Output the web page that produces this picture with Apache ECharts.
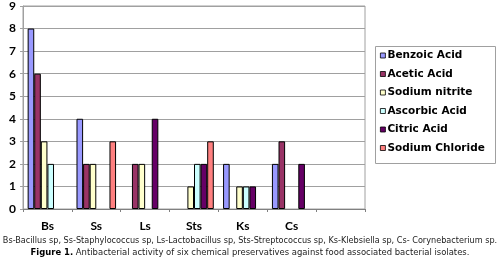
<!DOCTYPE html>
<html><head><meta charset="utf-8">
<script src="https://cdn.jsdelivr.net/npm/echarts@6/dist/echarts.min.js"></script>
<style>html,body{margin:0;padding:0;background:#fff}#c{width:500px;height:260px}</style>
</head><body><div id="c"></div>
<script>
var categories = ['Bs','Ss','Ls','Sts','Ks','Cs',''];
var seriesNames = ['Benzoic Acid','Acetic Acid','Sodium nitrite','Ascorbic Acid','Citric Acid','Sodium Chloride'];
var benzoic  = [8,4,0,0,2,2];
var acetic   = [6,2,2,0,0,3];
var nitrite  = [3,2,2,1,1,0];
var ascorbic = [2,0,0,2,1,0];
var citric   = [0,0,4,2,1,2];
var chloride = [0,3,0,3,0,0];
var yTicks = [0,1,2,3,4,5,6,7,8,9];
var caption1 = 'Bs-Bacillus sp, Ss-Staphylococcus sp, Ls-Lactobacillus sp, Sts-Streptococcus sp, Ks-Klebsiella sp, Cs- Corynebacterium sp.';
var caption2a = 'Figure 1.';
var caption2b = ' Antibacterial activity of six chemical preservatives against food associated bacterial isolates.';

var colors = ['#9999FF','#993366','#FFFFCC','#CCFFFF','#660066','#FF8080'];
var values = [benzoic, acetic, nitrite, ascorbic, citric, chloride];
var chart = echarts.init(document.getElementById('c'), null, {renderer:'canvas'});
var font = 'Lato, "Open Sans", sans-serif';
var capFont = '"DejaVu Sans", sans-serif';
chart.setOption({
  animation:false,
  grid:{left:23,right:135,top:6,bottom:51,show:true,borderColor:'#a0a0a0',borderWidth:1,backgroundColor:'transparent'},
  xAxis:{type:'category',data:categories,
    axisLine:{lineStyle:{color:'#808080',width:1}},
    axisTick:{show:true,length:3,lineStyle:{color:'#808080'}},
    axisLabel:{fontFamily:font,fontWeight:'bold',fontSize:12,color:'#000',margin:11},
    splitLine:{show:false}},
  yAxis:{type:'value',min:yTicks[0],max:yTicks[yTicks.length-1],interval:1,
    axisLine:{show:true,lineStyle:{color:'#a0a0a0',width:1}},
    axisTick:{show:true,length:3,lineStyle:{color:'#a0a0a0'}},
    axisLabel:{fontFamily:font,fontWeight:'bold',fontSize:12,color:'#000',margin:7},
    splitLine:{show:true,lineStyle:{color:'#a0a0a0',width:1}}},
  legend:{orient:'vertical',left:378,top:47,itemWidth:5,itemHeight:5,itemGap:5.5,
    icon:'rect',padding:[2,2,2,2],
    itemStyle:{borderWidth:0.8,borderColor:'#000'},
    textStyle:{fontFamily:capFont,fontWeight:'bold',fontSize:10.5,color:'#000',lineHeight:13,padding:[0,0,0,-3]},
    data:seriesNames},
  graphic:[
    {type:'rect',shape:{x:375.5,y:46.5,width:120,height:117},style:{fill:'none',stroke:'#a0a0a0',lineWidth:1},z:-1},
    {type:'text',left:'center',top:237,style:{text:'{n|'+caption1+'}',
      rich:{n:{fontFamily:capFont,fontSize:8.15,fill:'#222'}}}},
    {type:'text',left:'center',top:248.5,style:{text:'{b|'+caption2a+'}{n|'+caption2b+'}',
      rich:{b:{fontWeight:'bold',fontFamily:capFont,fontSize:8.45,fill:'#000'},
            n:{fontFamily:capFont,fontSize:8.45,fill:'#222'}}}}
  ],
  series: values.map(function(v,i){return {
    name:seriesNames[i],type:'bar',
    data:v.map(function(x){return x === 0 ? '-' : x;}),
    barGap:'0%',barCategoryGap:'19%',
    itemStyle:{color:colors[i],borderColor:'#000',borderWidth:1}
  };})
});
</script></body></html>
